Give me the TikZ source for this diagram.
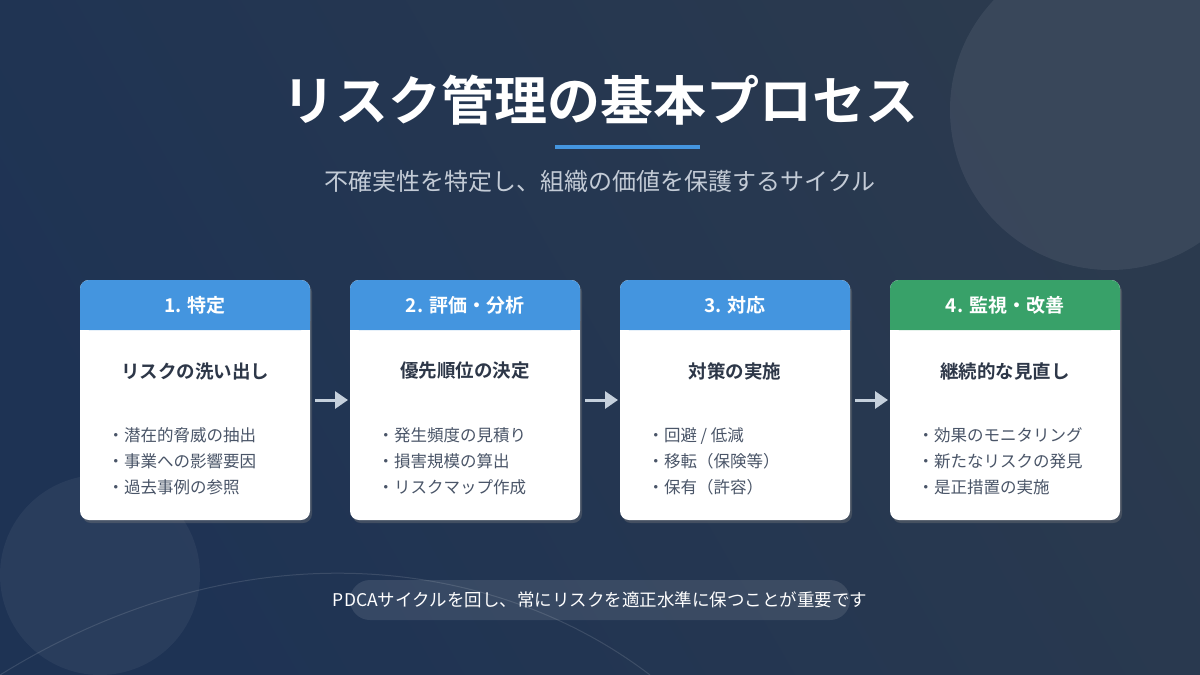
\documentclass[tikz,border=0pt]{standalone}
\usepackage{fontspec}
\setmainfont{Noto Sans CJK JP}[BoldFont={Noto Sans CJK JP Bold}]
\usetikzlibrary{shadows,arrows.meta}
\definecolor{bgA}{HTML}{1E3354}
\definecolor{bgB}{HTML}{2B3A4E}
\definecolor{hblue}{HTML}{4495DF}
\definecolor{hgreen}{HTML}{38A169}
\definecolor{ctitle}{HTML}{2D3748}
\definecolor{cbody}{HTML}{4A5568}
\definecolor{arrowc}{HTML}{C5D0DC}
\definecolor{subc}{HTML}{C3CBD6}
\tikzset{
  card/.style={fill=white,rounded corners=9pt,drop shadow={opacity=0.35,shadow xshift=2pt,shadow yshift=-3pt}},
  htext/.style={text=white,font=\fontsize{19}{22}\selectfont\bfseries},
  ttext/.style={text=ctitle,font=\fontsize{18.5}{21}\selectfont\bfseries},
  btext/.style={text=cbody,font=\fontsize{16.5}{26}\selectfont,align=left},
  flow/.style={draw=arrowc,line width=3pt,-{Triangle[length=13pt,width=17pt]}},
}
\begin{document}
\begin{tikzpicture}[x=1pt,y=-1pt]
\useasboundingbox (0,0) rectangle (1200,675);
\shade[left color=bgA,right color=bgB,shading angle=120] (0,0) rectangle (1200,675);
\fill[white,opacity=0.07] (1110,110) circle (160);
\fill[white,opacity=0.05] (100,575) circle (100);
\draw[white,opacity=0.12,line width=1pt] (0,675) .. controls (250,520) and (500,560) .. (650,675);
\node (title) at (600,100) {\fontsize{53}{60}\selectfont\bfseries\color{white}リスク管理の基本プロセス};
\draw[hblue,line width=4pt] (555,147) -- (700,147);
\node (sub) at (600,181) {\fontsize{24}{28}\selectfont\color{subc}不確実性を特定し、組織の価値を保護するサイクル};
\foreach \i/\x/\hc/\h/\t/\ba/\bb/\bc in {
 1/80/hblue/1. 特定/リスクの洗い出し/潜在的脅威の抽出/事業への影響要因/過去事例の参照,
 2/350/hblue/2. 評価・分析/優先順位の決定/発生頻度の見積り/損害規模の算出/リスクマップ作成,
 3/620/hblue/3. 対応/対策の実施/{回避 / 低減}/移転（保険等）/保有（許容）,
 4/890/hgreen/4. 監視・改善/継続的な見直し/効果のモニタリング/新たなリスクの発見/是正措置の実施}{
  \path[card] (\x,280) rectangle (\x+230,520);
  \node[minimum width=0pt] (c\i) at (\x+115,400) {};
  \fill[\hc,rounded corners=9pt] (\x,330) -- (\x,280) -- (\x+230,280) -- (\x+230,330) -- cycle;
  \fill[\hc] (\x,315) rectangle (\x+230,330);
  \node[htext] (h\i) at (\x+115,305) {\h};
  \node[ttext] (t\i) at (\x+115,371) {\t};
  \node[btext,anchor=north west] (b\i) at (\x+24,424) {・\ba\\・\bb\\・\bc};
}
\coordinate (a1s) at (315,400); \coordinate (a1e) at (348,400);
\coordinate (a2s) at (585,400); \coordinate (a2e) at (618,400);
\coordinate (a3s) at (855,400); \coordinate (a3e) at (888,400);
\draw[flow] (a1s) -- (a1e);
\draw[flow] (a2s) -- (a2e);
\draw[flow] (a3s) -- (a3e);
\fill[white,opacity=0.1,rounded corners=20pt] (350,580) rectangle (850,620);
\node (foot) at (600,600) {\fontsize{17.5}{20}\selectfont\color{white}PDCAサイクルを回し、常にリスクを適正水準に保つことが重要です};
\end{tikzpicture}
\end{document}
